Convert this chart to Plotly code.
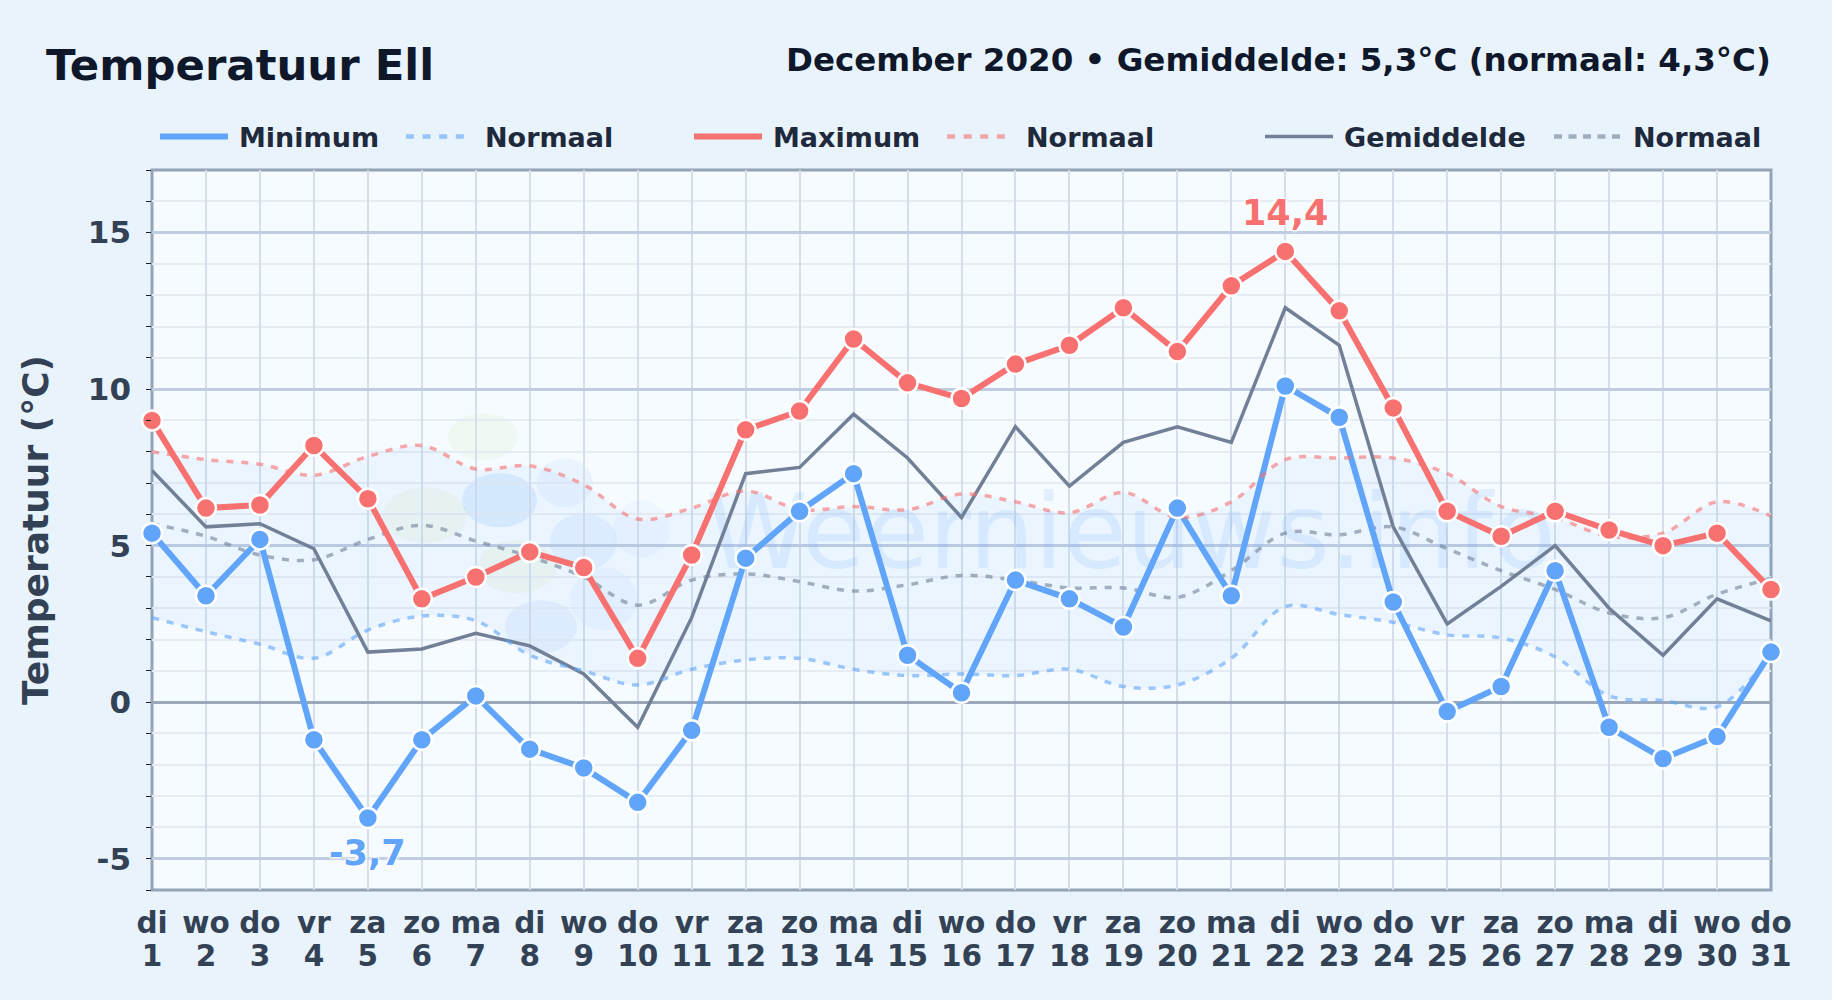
import plotly.graph_objects as go

days = list(range(1, 32))
weekdays = ["di","wo","do","vr","za","zo","ma","di","wo","do","vr","za","zo","ma","di","wo","do","vr","za","zo","ma","di","wo","do","vr","za","zo","ma","di","wo","do"]
tick_labels = [f'<span style="font-size:29.5px">{w}<br>{d}</span>' for w, d in zip(weekdays, days)]

t_min = [5.4,3.4,5.2,-1.2,-3.7,-1.2,0.2,-1.5,-2.1,-3.2,-0.9,4.6,6.1,7.3,1.5,0.3,3.9,3.3,2.4,6.2,3.4,10.1,9.1,3.2,-0.3,0.5,4.2,-0.8,-1.8,-1.1,1.6]
t_max = [9.0,6.2,6.3,8.2,6.5,3.3,4.0,4.8,4.3,1.4,4.7,8.7,9.3,11.6,10.2,9.7,10.8,11.4,12.6,11.2,13.3,14.4,12.5,9.4,6.1,5.3,6.1,5.5,5.0,5.4,3.6]
t_mean = [7.4,5.6,5.7,4.9,1.6,1.7,2.2,1.8,0.9,-0.8,2.7,7.3,7.5,9.2,7.8,5.9,8.8,6.9,8.3,8.8,8.3,12.6,11.4,5.6,2.5,3.7,5.0,3.0,1.5,3.3,2.6]
norm_max = [8.0,7.75,7.6,7.25,7.85,8.2,7.45,7.55,6.95,5.85,6.2,6.75,6.15,6.25,6.15,6.65,6.4,6.05,6.7,5.9,6.4,7.75,7.8,7.8,7.3,6.25,5.9,5.3,5.4,6.4,5.95]
norm_mean = [5.7,5.3,4.7,4.55,5.2,5.65,5.15,4.65,4.0,3.1,3.9,4.1,3.85,3.55,3.75,4.05,3.9,3.65,3.65,3.35,4.2,5.4,5.35,5.6,4.9,4.2,3.6,2.85,2.7,3.45,3.95]
norm_min = [2.7,2.25,1.85,1.4,2.3,2.75,2.6,1.5,1.0,0.55,1.05,1.35,1.4,1.05,0.85,0.9,0.85,1.05,0.5,0.55,1.4,3.05,2.8,2.55,2.15,2.05,1.45,0.2,0.05,-0.15,1.55]

BLUE = "#60a5fa"
RED = "#f87171"
GREY = "#718096"
PAPER = "#e8f3fc"
FONT = "DejaVu Sans"
W, H = 1832, 1000
L, R, T, B = 152, 1771, 169.5, 890

fig = go.Figure()

# band between the normals
fig.add_trace(go.Scatter(x=days, y=norm_max, mode="lines", line=dict(width=0, shape="spline"), showlegend=False, hoverinfo="skip"))
fig.add_trace(go.Scatter(x=days, y=norm_min, mode="lines", line=dict(width=0, shape="spline"), fill="tonexty", fillcolor="rgba(96,165,250,0.07)", showlegend=False, hoverinfo="skip"))

# watermark below the lines
fig.add_trace(go.Scatter(x=[19.14], y=[5.1], mode="text", text=["Weernieuws.info"], showlegend=False,
                         textfont=dict(family=FONT, size=103, color="rgba(96,165,250,0.14)")))

def legend_key(name, leg, color, width, dash, opacity=1):
    # legend key only, so that its length can differ from the plotted line's pattern
    fig.add_trace(go.Scatter(x=[None], y=[None], mode="lines", name=name, legend=leg,
                             line=dict(color=color, width=width, dash=dash), opacity=opacity))

def normal(y, color, leg, legend_dash):
    fig.add_trace(go.Scatter(x=days, y=y, mode="lines", showlegend=False,
                             line=dict(color=color, width=3.5, dash="7px,8px", shape="spline"), opacity=0.6))
    legend_key("Normaal", leg, color, 4.5, legend_dash, 0.6)

def main(y, name, color, width, leg):
    fig.add_trace(go.Scatter(x=days, y=y, mode="lines", showlegend=False, line=dict(color=color, width=width)))
    legend_key(name, leg, color, width, "68px,300px")

DASH4 = "8px,8.6px,8px,8.6px,8px,8.6px,8px,200px"
DASH5 = "8px,6.5px,8px,6.5px,8px,6.5px,8px,6.5px,8px,200px"
main(t_mean, "Gemiddelde", GREY, 3.5, "legend3")
normal(norm_mean, "#718096", "legend3", DASH5)
main(t_min, "Minimum", BLUE, 6, "legend")
normal(norm_min, BLUE, "legend", DASH4)
main(t_max, "Maximum", RED, 6, "legend2")
normal(norm_max, RED, "legend2", DASH4)

for y, c in ((t_min, BLUE), (t_max, RED)):
    fig.add_trace(go.Scatter(x=days, y=y, mode="markers", showlegend=False, cliponaxis=False,
                             marker=dict(size=20, color=c, line=dict(color="white", width=2.5))))

# extremes
i_max = t_max.index(max(t_max))
i_min = t_min.index(min(t_min))
shadow = "0 0 3px #fff, 0 0 3px #fff, 0 0 4px #fff, 0 0 4px #fff"
annos = [
    dict(x=days[i_max], y=t_max[i_max], text=f"{t_max[i_max]:.1f}".replace(".", ","), yshift=38, showarrow=False,
         font=dict(family=FONT, size=35, color=RED, weight="bold", shadow=shadow)),
    dict(x=days[i_min], y=t_min[i_min], text=f"{t_min[i_min]:.1f}".replace(".", ","), yshift=-35, showarrow=False,
         font=dict(family=FONT, size=35, color=BLUE, weight="bold", shadow=shadow)),
    dict(xref="paper", yref="paper", xanchor="left", yanchor="middle", x=(44-L)/(R-L), y=(T-64)/(B-T)+1, text="Temperatuur Ell",
         showarrow=False, font=dict(family=FONT, size=43.4, color="#0f172a", weight="bold")),
    dict(xref="paper", yref="paper", xanchor="right", yanchor="middle", x=1, xshift=2, y=(T-59)/(B-T)+1,
         text="December 2020 • Gemiddelde: 5,3°C (normaal: 4,3°C)", showarrow=False,
         font=dict(family=FONT, size=32.5, color="#0f172a", weight="bold")),
]

def px_x(p): return (p - L) / (R - L)
def px_y(p): return 1 - (p - T) / (B - T)

GREEN_SOFT = "rgba(190,225,130,0.10)"
blobs = [
    (448, 413, 518, 460, GREEN_SOFT),
    (383, 487, 467, 543, GREEN_SOFT),
    (477, 540, 557, 593, GREEN_SOFT),
    (462, 473, 537, 527, "rgba(96,165,250,0.16)"),
    (537, 458, 593, 507, "rgba(96,165,250,0.08)"),
    (550, 513, 617, 570, "rgba(96,165,250,0.11)"),
    (570, 567, 637, 630, "rgba(96,165,250,0.07)"),
    (505, 600, 577, 653, "rgba(96,165,250,0.11)"),
    (613, 500, 670, 557, "rgba(96,165,250,0.05)"),
]
shapes = [dict(type="circle", xref="paper", yref="paper", layer="below", line=dict(width=0), fillcolor=c,
               x0=px_x(a), x1=px_x(b), y0=px_y(d), y1=px_y(e)) for a, e, b, d, c in blobs]
# plot frame centred on the plot edges
shapes.append(dict(type="rect", xref="paper", yref="paper", layer="below", x0=0, x1=1, y0=0, y1=1,
                   line=dict(color="#94a3b8", width=3), fillcolor="rgba(0,0,0,0)"))

legend_base = dict(orientation="h", yanchor="middle", xref="container", yref="container", y=1-137/H,
                   bgcolor="rgba(0,0,0,0)", itemwidth=74, itemclick=False, traceorder="normal",
                   entrywidthmode="pixels",
                   font=dict(family=FONT, size=27, color="#1e293b", weight="bold"), tracegroupgap=0)

fig.update_layout(
    width=W, height=H, autosize=False,
    margin=dict(l=L, r=W-R, t=T, b=H-B, autoexpand=False),
    paper_bgcolor=PAPER, plot_bgcolor="#f6fbff",
    hovermode=False,
    annotations=annos, shapes=shapes,
    legend={**legend_base, "x": 155/W, "entrywidth": 157},
    legend2={**legend_base, "x": 689/W, "entrywidth": 164},
    legend3={**legend_base, "x": 1260/W, "entrywidth": 200},
    font=dict(family=FONT),
    xaxis=dict(range=[1, 31], tickmode="array", tickvals=days, ticktext=tick_labels, showline=False,
               showgrid=True, gridcolor="#d5deea", gridwidth=2, ticks="", ticklabelstandoff=16,
               tickfont=dict(family=FONT, size=25.5, color="#334155", weight="bold"), zeroline=False),
    yaxis=dict(range=[-6, 17], tickmode="array", tickvals=[-5, 0, 5, 10, 15], ticktext=["-5","0","5","10","15"],
               showline=False,
               showgrid=True, gridcolor="#bfcde0", gridwidth=3, ticks="", ticklabelstandoff=20,
               tickfont=dict(family=FONT, size=31, color="#334155", weight="bold"),
               zeroline=True, zerolinecolor="#9aa8ba", zerolinewidth=3,
               minor=dict(dtick=1, tick0=0, showgrid=True, gridcolor="#e6ecf3", gridwidth=2, ticks="outside", ticklen=5, tickcolor="#222", tickwidth=1),
               title=dict(text="Temperatuur (°C)", font=dict(family=FONT, size=36, color="#334155", weight="bold"), standoff=28)),
)
fig.write_html("out.html", config={"displayModeBar": False},
               post_script=f"document.body.style.margin='0';document.body.style.background='{PAPER}';")
